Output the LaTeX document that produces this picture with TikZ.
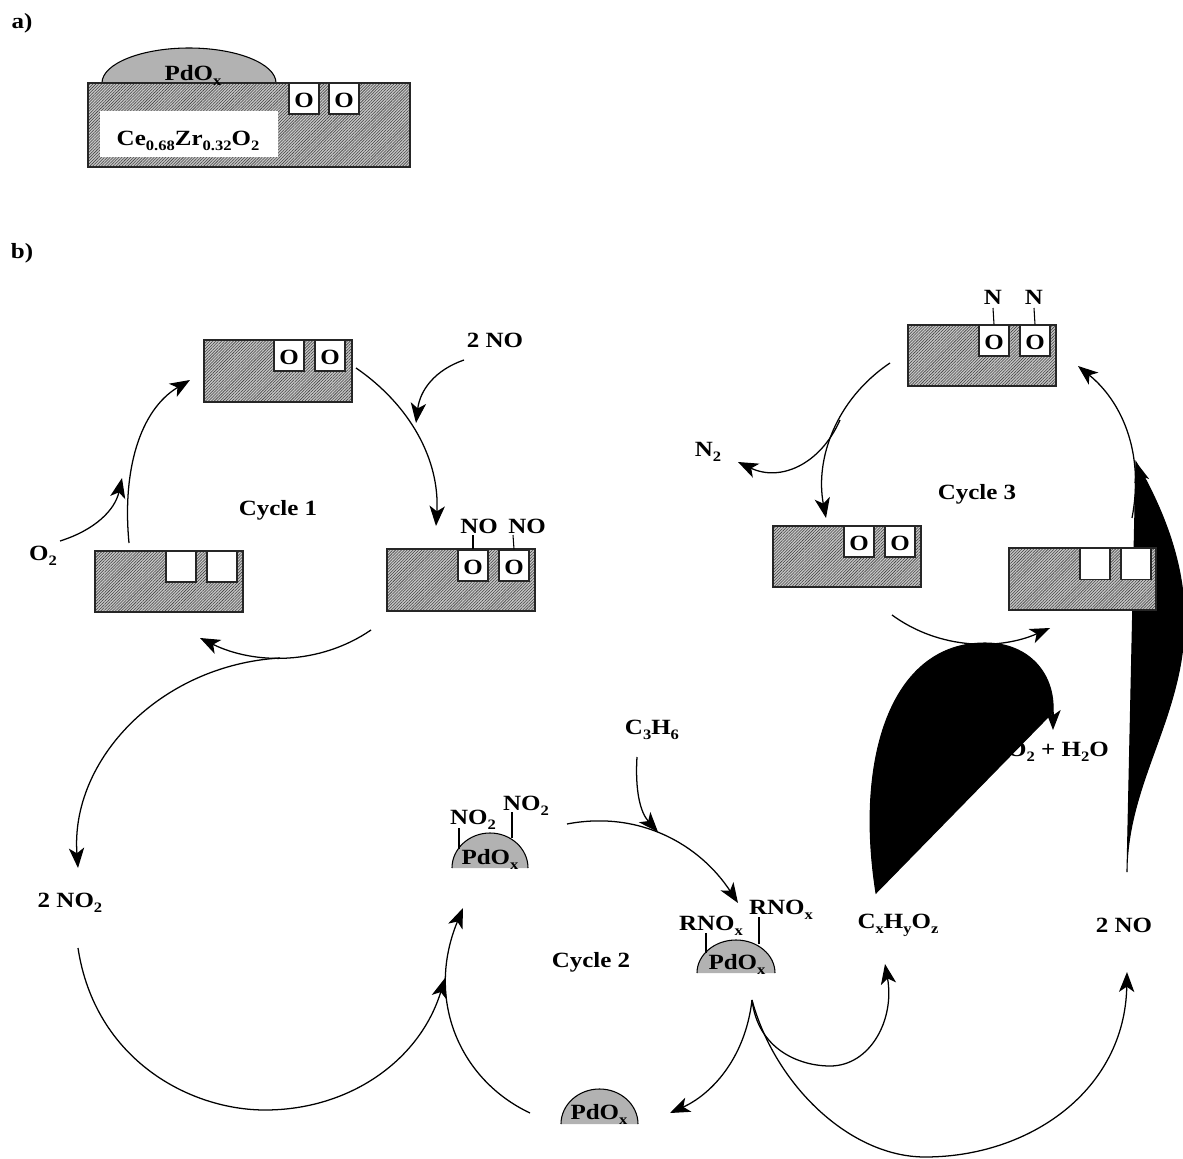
\documentclass[tikz,border=0pt]{standalone}
\usepackage{fontspec}
\setmainfont[FakeStretch=1.15]{Liberation Serif}
\usetikzlibrary{arrows.meta,patterns.meta}
\newcommand{\lowsub}[1]{{\fontsize{10.8}{12}\selectfont\raisebox{-3.6pt}{#1}}}
\newcommand{\blockat}[5]{\node[blockbox,minimum width=#4*0.75pt,minimum height=#5*0.75pt] (#1) at (#2,#3) {};}
\newcommand{\domeat}[5]{%
  \pgfmathsetmacro{\xmid}{(#2+#3)/2}\pgfmathsetmacro{\kx}{(#3-#2)*0.275}\pgfmathsetmacro{\ky}{(#4-#5)*0.55}%
  \filldraw[domeshape] (#2,#4) .. controls (#2,#4-\ky) and (\xmid-\kx,#5) .. (\xmid,#5) .. controls (\xmid+\kx,#5) and (#3,#4-\ky) .. (#3,#4);
  \coordinate (#1) at (\xmid,#5);}
\tikzset{
  lab/.style={font=\bfseries\fontsize{16.3}{18}\selectfont,inner sep=0pt,anchor=base,yshift=-1pt},
  blockbox/.style={draw=black!85,line width=0.9pt,inner sep=0pt,preaction={fill=black!22},pattern={Lines[angle=45,distance=1.55pt,line width=0.42pt]},pattern color=black!75},
  sitebox/.style={draw=black!85,line width=0.9pt,fill=white,inner sep=0pt,minimum width=22.5pt,minimum height=23.3pt,text height=13.5pt,text depth=0pt,font=\bfseries\fontsize{16.3}{18}\selectfont},
  domeshape/.style={fill=black!30,draw=black,line width=0.8pt},
  tick/.style={line width=0.8pt},
  flow/.style={line width=0.95pt,-{Stealth[length=15pt,width=11.5pt,inset=4pt]}},
  blob/.style={fill=black,draw=black,line width=0.8pt}
}
\begin{document}
\begin{tikzpicture}[x=0.75pt,y=-0.75pt]
\useasboundingbox (0,0) rectangle (1183,1159);
% hidden label first
\node[lab,anchor=base east] (prod) at (1109,755) {CO\lowsub{2} + H\lowsub{2}O};
% free ends
\coordinate (o2s) at (60,541); \coordinate (o2e) at (122,478);
\coordinate (bs) at (129,543); \coordinate (be) at (190,380);
\coordinate (cs) at (356,368); \coordinate (ce) at (436,526);
\coordinate (ds) at (464,360); \coordinate (de) at (416,423);
\coordinate (es) at (371,630); \coordinate (ee) at (200,638);
\coordinate (fs) at (280,658); \coordinate (fe) at (78,868);
\coordinate (gs) at (78,948); \coordinate (gm) at (265,1110); \coordinate (ge) at (445,978);
\coordinate (hs) at (530,1113); \coordinate (he) at (463,908);
\coordinate (is) at (567,824); \coordinate (ie) at (738,903);
\coordinate (js) at (637,757); \coordinate (je) at (658,832);
\coordinate (ks) at (752,1000); \coordinate (ke) at (670,1113);
\coordinate (lm) at (830,1066); \coordinate (le) at (885,964);
\coordinate (mm) at (925,1157); \coordinate (me) at (1127,972);
\coordinate (ns) at (1127,872); \coordinate (ne) at (1136,462);
\coordinate (os) at (1132,518); \coordinate (oe) at (1078,366);
\coordinate (ps) at (890,363); \coordinate (pe) at (826,518);
\coordinate (qs) at (840,420); \coordinate (qe) at (738,462);
\coordinate (rs) at (892,615); \coordinate (re) at (1050,628);
\coordinate (ts) at (876,893); \coordinate (tm) at (985,643); \coordinate (tc) at (1053,712); \coordinate (te) at (1053,730);
% filled curves
\filldraw[blob] (ns) .. controls (1127,740) and (1250,660) .. (ne) -- cycle;
\draw[flow] (1139,472) -- (ne);
\filldraw[blob] (ts) .. controls (855,760) and (890,643) .. (tm) .. controls (1030,643) and (1055,675) .. (tc) -- cycle;
\draw[flow] (tc) -- (te);
% a) catalyst
\domeat{domeA}{102}{276}{83}{48}
\blockat{supA}{249}{125}{322}{84}
\node[fill=white,minimum width=133.5pt,minimum height=34.5pt,inner sep=0pt] (whiteA) at (189,134) {};
\node[lab] (ceL) at (188,144) {Ce\lowsub{0.68}Zr\lowsub{0.32}O\lowsub{2}};
\node[lab] (pdA) at (193,79) {PdO\lowsub{x}};
\node[sitebox] (oA1) at (304,98.5) {O};
\node[sitebox] (oA2) at (344,98.5) {O};
\node[lab] (la) at (22,27) {a)};
\node[lab] (lb) at (22,257) {b)};
% Cycle 1 blocks
\blockat{top1}{278}{371}{148}{62}
\node[sitebox] (t1a) at (289,355.5) {O}; \node[sitebox] (t1b) at (330,355.5) {O};
\blockat{left1}{169}{581.5}{148}{61}
\node[sitebox] (l1a) at (181,566.5) {}; \node[sitebox] (l1b) at (222,566.5) {};
\blockat{right1}{461}{580}{148}{62}
\node[sitebox] (r1a) at (473,565.5) {O}; \node[sitebox] (r1b) at (514,565.5) {O};
\node[lab] (no1) at (479,532) {NO}; \node[lab] (no2) at (527,532) {NO};
\draw[tick] (r1a.north) -- (473,535); \draw[tick] (r1b.north) -- (513,535);
% Cycle 3 blocks
\blockat{top3}{982}{355.5}{148}{61}
\node[sitebox] (t3a) at (994,340.5) {O}; \node[sitebox] (t3b) at (1035,340.5) {O};
\node[lab] (n1) at (993,303) {N}; \node[lab] (n2) at (1034,303) {N};
\draw[tick] (t3a.north) -- (993,308); \draw[tick] (t3b.north) -- (1034,308);
\blockat{left3}{847}{556.5}{148}{61}
\node[sitebox] (l3a) at (859,541.5) {O}; \node[sitebox] (l3b) at (900,541.5) {O};
\blockat{right3}{1082.5}{579}{147}{62}
\node[sitebox] (r3a) at (1095,564) {}; \node[sitebox] (r3b) at (1136,564) {};
% domes
\domeat{domeN}{452}{528}{868}{833}
\domeat{domeR}{697}{775}{973}{940}
\domeat{domeB}{561}{638}{1124}{1089}
\node[lab] (pdN) at (490,863) {PdO\lowsub{x}};
\node[lab] (pdR) at (737,968) {PdO\lowsub{x}};
\node[lab] (pdB) at (599,1118) {PdO\lowsub{x}};
\node[lab] (no2a) at (473,823) {NO\lowsub{2}};
\node[lab] (no2b) at (526,809) {NO\lowsub{2}};
\draw[tick] (459,849) -- (459,828);
\draw[tick] (512,838) -- (512,812);
\node[lab] (rnoa) at (711,929) {RNO\lowsub{x}};
\node[lab] (rnob) at (781,913) {RNO\lowsub{x}};
\draw[tick] (706,953) -- (706,933);
\draw[tick] (759,944) -- (759,917);
% labels
\node[lab] (c1) at (278,514) {Cycle 1};
\node[lab] (c2) at (591,966) {Cycle 2};
\node[lab] (c3) at (977,498) {Cycle 3};
\node[lab] (twono1) at (495,346) {2 NO};
\node[lab] (o2) at (43,559) {O\lowsub{2}};
\node[lab] (n2g) at (708,455) {N\lowsub{2}};
\node[lab] (c3h6) at (652,733) {C\lowsub{3}H\lowsub{6}};
\node[lab] (twono2) at (70,906) {2 NO\lowsub{2}};
\node[lab] (cxhy) at (898,927) {C\lowsub{x}H\lowsub{y}O\lowsub{z}};
\node[lab] (twono3) at (1124,931) {2 NO};
% connectors
\draw[flow] (o2s) .. controls (95,530) and (115,510) .. (o2e);
\draw[flow] (bs) .. controls (122,470) and (140,410) .. (be);
\draw[flow] (cs) .. controls (410,405) and (440,460) .. (ce);
\draw[flow] (ds) .. controls (435,370) and (420,390) .. (de);
\draw[flow] (es) .. controls (320,665) and (255,665) .. (ee);
\draw[flow] (fs) .. controls (160,665) and (70,760) .. (fe);
\draw[flow] (gs) .. controls (95,1060) and (190,1110) .. (gm) .. controls (350,1110) and (420,1060) .. (ge);
\draw[flow] (hs) .. controls (460,1080) and (425,1000) .. (he);
\draw[flow] (is) .. controls (640,810) and (700,845) .. (ie);
\draw[flow] (js) .. controls (635,790) and (640,812) .. (je);
\draw[flow] (ks) .. controls (745,1060) and (710,1095) .. (ke);
\draw[flow] (ks) .. controls (758,1050) and (800,1066) .. (lm) .. controls (870,1066) and (895,1020) .. (le);
\draw[flow] (ks) .. controls (775,1085) and (850,1157) .. (mm) .. controls (1030,1157) and (1125,1090) .. (me);
\draw[flow] (os) .. controls (1145,450) and (1120,400) .. (oe);
\draw[flow] (ps) .. controls (835,400) and (815,460) .. (pe);
\draw[flow] (qs) .. controls (820,465) and (780,482) .. (qe);
\draw[flow] (rs) .. controls (940,650) and (1000,650) .. (re);
\end{tikzpicture}
\end{document}
